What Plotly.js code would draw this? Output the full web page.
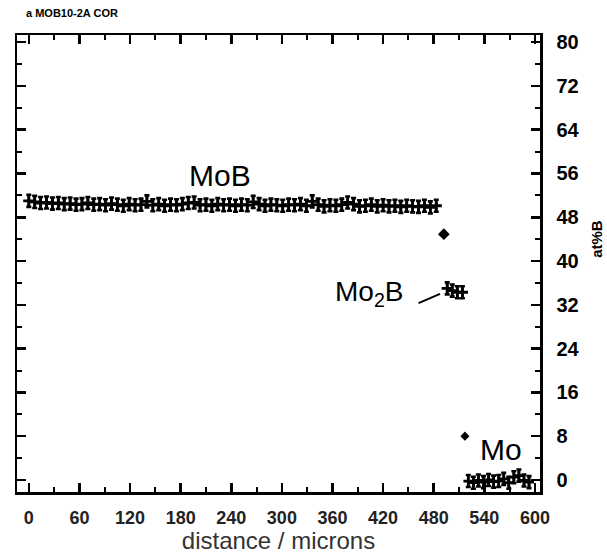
<!DOCTYPE html>
<html>
<head>
<meta charset="utf-8">
<script src="https://cdn.plot.ly/plotly-3.0.1.min.js"></script>
<style>html,body{margin:0;padding:0;background:#fff;}#chart{width:607px;height:554px;}</style>
</head>
<body>
<div id="chart"></div>
<script>
// MoB phase
var mobX = [0,7,14,21,28,35,42,49,56,63,70,77,84,91,98,105,112,119,126,133,140,147,154,161,168,175,182,189,196,203,210,217,224,231,238,245,252,259,266,273,280,287,294,301,308,315,322,329,336,343,350,357,364,371,378,385,392,399,406,413,420,427,434,441,448,455,462,469,476,483];
var mobY = [51.0,50.8,50.6,50.7,50.5,50.6,50.4,50.5,50.3,50.4,50.6,50.3,50.4,50.2,50.5,50.3,50.1,50.4,50.2,50.3,50.9,50.2,50.4,50.1,50.3,50.2,50.4,50.6,50.7,50.2,50.3,50.1,50.4,50.2,50.3,50.1,50.3,50.2,50.8,50.4,50.1,50.3,50.2,50.1,50.3,50.2,50.4,50.1,50.9,50.3,50.0,50.2,50.1,50.3,50.7,50.4,50.0,50.1,50.3,50.0,50.2,50.0,50.1,49.9,50.1,50.0,49.9,50.1,49.8,50.1];
// transition point
var transX = [492];
var transY = [44.9];
// Mo2B phase
var mo2bX = [496,502,508,514];
var mo2bY = [35.0,34.6,34.3,34.3];
// isolated point
var isoX = [517];
var isoY = [8.0];
// Mo phase
var moX = [521,527,533,539,545,551,557,563,569,575,581,587,593];
var moY = [-0.2,-0.5,-0.1,-0.4,0.0,-0.3,-0.2,0.2,-0.5,0.5,0.8,-0.1,-0.4];

var xTicks = [0,60,120,180,240,300,360,420,480,540,600];
var xTickText = ["0","60","120","180","240","300","360","420","480","540","600"];
var yTicks = [0,8,16,24,32,40,48,56,64,72,80];
var yTickText = ["0","8","16","24","32","40","48","56","64","72","80"];

function pts(x, y, sym, size) {
  return {
    x: x, y: y, type: 'scatter', mode: 'markers', showlegend: false, hoverinfo: 'skip',
    marker: {symbol: sym, size: size, color: '#000', line: {color: '#000', width: 2.8}},
    error_y: {type: 'constant', value: 1.1, thickness: 2.6, width: 2.5, color: '#000'}
  };
}

var traces = [
  pts(mobX, mobY, 'cross-thin-open', 8),
  {x: transX, y: transY, type: 'scatter', mode: 'markers', showlegend: false, hoverinfo: 'skip',
   marker: {symbol: 'diamond', size: 9, color: '#000'}},
  pts(mo2bX, mo2bY, 'cross-thin-open', 8),
  {x: isoX, y: isoY, type: 'scatter', mode: 'markers', showlegend: false, hoverinfo: 'skip',
   marker: {symbol: 'diamond', size: 7, color: '#000'}},
  pts(moX, moY, 'cross-thin-open', 7)
];

var layout = {
  width: 607, height: 554,
  margin: {l: 17, r: 67, t: 35, b: 62},
  paper_bgcolor: '#fff', plot_bgcolor: '#fff',
  showlegend: false,
  xaxis: {
    range: [-14, 606], tickmode: 'array', tickvals: xTicks, ticktext: xTickText,
    ticks: 'inside', ticklen: 9, tickwidth: 2.5, tickcolor: '#000',
    minor: {dtick: 30, tick0: 0, ticks: 'inside', ticklen: 5, tickwidth: 2, tickcolor: '#000'},
    showline: true, linecolor: '#000', linewidth: 2.5, mirror: 'ticks',
    showgrid: false, zeroline: false,
    tickfont: {family: 'Liberation Sans, Arial, sans-serif', size: 18, color: '#222', weight: 'bold'},
    ticklabelstandoff: 8,
    title: {text: 'distance / microns', font: {family: 'Liberation Sans, Arial, sans-serif', size: 24, color: '#333'}, standoff: 5}
  },
  yaxis: {
    range: [-2.2, 81.3], side: 'right', tickmode: 'array', tickvals: yTicks, ticktext: yTickText,
    ticks: 'inside', ticklen: 9, tickwidth: 2.5, tickcolor: '#000',
    minor: {dtick: 4, tick0: 0, ticks: 'inside', ticklen: 5, tickwidth: 2, tickcolor: '#000'},
    showline: true, linecolor: '#000', linewidth: 2.5, mirror: 'ticks',
    showgrid: false, zeroline: false,
    tickfont: {family: 'Liberation Sans, Arial, sans-serif', size: 20, color: '#000', weight: 'bold'},
    ticklabelstandoff: 10
  },
  annotations: [
    {xref: 'paper', yref: 'paper', x: 0.014, y: 1.03, xanchor: 'left', yanchor: 'bottom', showarrow: false,
     text: 'a MOB10-2A COR', font: {family: 'Liberation Sans, Arial, sans-serif', size: 11, color: '#000', weight: 'bold'}},
    {xref: 'x', yref: 'y', x: 227, y: 55.6, showarrow: false, text: 'MoB',
     font: {family: 'Liberation Sans, Arial, sans-serif', size: 30, color: '#000'}},
    {xref: 'x', yref: 'y', x: 404, y: 34.0, showarrow: false, text: 'Mo<sub>2</sub>B',
     font: {family: 'Liberation Sans, Arial, sans-serif', size: 28, color: '#000'}},
    {xref: 'x', yref: 'y', x: 560, y: 5.5, showarrow: false, text: 'Mo',
     font: {family: 'Liberation Sans, Arial, sans-serif', size: 30, color: '#000'}},
    {xref: 'paper', yref: 'paper', x: 1.108, y: 0.555, xanchor: 'center', yanchor: 'middle', showarrow: false,
     textangle: -90, text: 'at%B', font: {family: 'Liberation Sans, Arial, sans-serif', size: 15, color: '#000', weight: 'bold'}}
  ],
  shapes: [
    {type: 'line', xref: 'x', yref: 'y', x0: 462, y0: 32.3, x1: 487.5, y1: 34.0, line: {color: '#000', width: 2}}
  ]
};

Plotly.newPlot('chart', traces, layout, {staticPlot: true, displayModeBar: false});
</script>
</body>
</html>
